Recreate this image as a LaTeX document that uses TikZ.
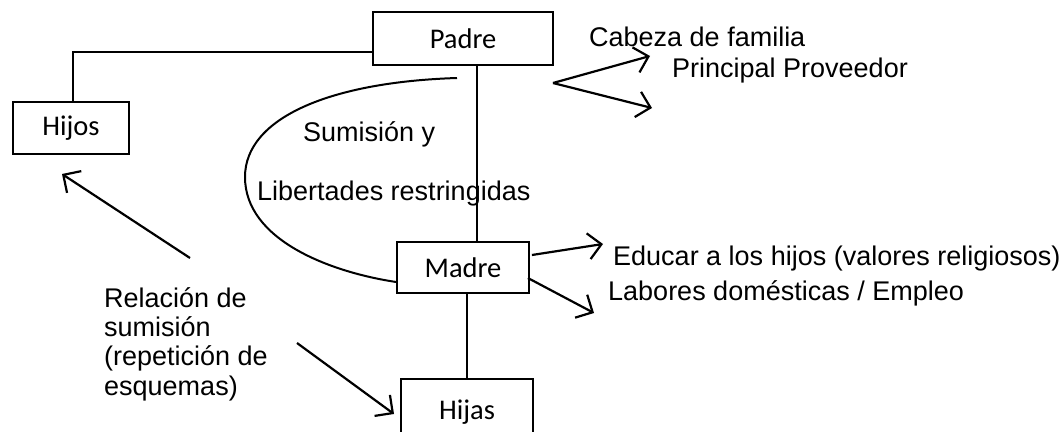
\documentclass[tikz,border=0pt]{standalone}
\usepackage{fontspec}
\newfontfamily\arialf{Liberation Sans}
\newfontfamily\calibrif{Carlito}
\usetikzlibrary{arrows.meta}
\tikzset{
  box/.style={draw, line width=1.8pt, inner sep=0pt, font=\calibrif\fontsize{28.5}{32}\selectfont},
  lbl/.style={inner sep=0pt, anchor=base west, font=\arialf\fontsize{27}{30}\selectfont},
  conn/.style={line width=2pt},
  arr/.style={line width=2.2pt, -{Straight Barb[length=13pt,width=26pt]}}
}
\begin{document}
\begin{tikzpicture}[x=1pt,y=-1pt]
\useasboundingbox (0,0) rectangle (1060,431);
% boxes
\node[box, minimum width=180pt, minimum height=53pt] (Padre) at (463,38.5) {Padre};
\node[box, minimum width=116pt, minimum height=52pt] (Hijos) at (71,128) {Hijos};
\node[box, minimum width=132pt, minimum height=51pt] (Madre) at (463,267.5) {Madre};
\node[box, minimum width=132pt, minimum height=62pt, text depth=0pt] (Hijas) at (467,410) {Hijas};
% coordinates
\coordinate (arcstart) at (457,78);
\coordinate (pv) at (553,83);
\coordinate (pt1) at (650,56);
\coordinate (pt2) at (652,108);
\coordinate (me1) at (603,244);
\coordinate (me2) at (594,313);
\coordinate (hs) at (190,258);
\coordinate (he) at (62,174);
\coordinate (js) at (297,343);
\coordinate (je) at (394,414);
% connectors
\draw[conn] ([yshift=-13.5pt]Padre.west) -| ([xshift=2pt]Hijos.north);
\draw[conn] ([xshift=14pt]Padre.south) -- ([xshift=14pt]Madre.north);
\draw[conn] ([xshift=4pt]Madre.south) -- (Hijas.north);
\draw[conn] (arcstart) .. controls (330,82) and (245,118) .. (245,177)
  .. controls (245,240) and (330,272) .. ([yshift=-14.5pt]Madre.west);
\draw[arr] (pv) -- (pt1);
\draw[arr] (pv) -- (pt2);
\draw[arr] ([xshift=2pt,yshift=12.5pt]Madre.east) -- (me1);
\draw[arr] ([xshift=-2pt,yshift=-10.5pt]Madre.east) -- (me2);
\draw[arr] (hs) -- (he);
\draw[arr] (js) -- (je);
% labels
\node[lbl] (t1) at (589,46) {Cabeza de familia};
\node[lbl] (t2) at (672,77) {Principal Proveedor};
\node[lbl] (t3) at (303,141) {Sumisión y};
\node[lbl] (t4) at (257,200) {Libertades restringidas};
\node[lbl] (t5) at (613,265) {Educar a los hijos (valores religiosos)};
\node[lbl] (t6) at (608,300) {Labores domésticas / Empleo};
\node[lbl] (t7) at (104,307) {Relación de};
\node[lbl] (t8) at (104,336.3) {sumisión};
\node[lbl] (t9) at (104,365.6) {(repetición de};
\node[lbl] (t10) at (104,395) {esquemas)};
\end{tikzpicture}
\end{document}
